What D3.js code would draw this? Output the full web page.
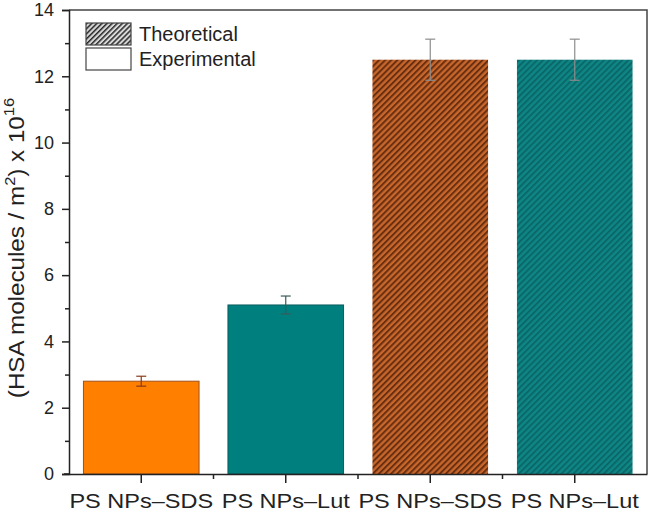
<!DOCTYPE html>
<html>
<head>
<meta charset="utf-8">
<script src="https://cdn.jsdelivr.net/npm/d3@7"></script>
<style>
  body { margin: 0; background: #fff; }
  text { font-family: "Liberation Sans", Arial, sans-serif; fill: #222; }
</style>
</head>
<body>
<script>
// chart values
const categories = ["PS NPs\u2013SDS", "PS NPs\u2013Lut", "PS NPs\u2013SDS ", "PS NPs\u2013Lut "];
const values = [2.8, 5.1, 12.5, 12.5];
const errors = [0.15, 0.27, 0.62, 0.62];
const kinds = ["Experimental", "Experimental", "Theoretical", "Theoretical"];
const yTicks = [0, 2, 4, 6, 8, 10, 12, 14];
const legendItems = ["Theoretical", "Experimental"];

const W = 664, H = 517;
const mLeft = 69, mRight = 647, mTop = 10, mBottom = 474;

const svg = d3.select("body").append("svg").attr("width", W).attr("height", H);

const defs = svg.append("defs");
function stripes(id, base, line, gap, lw) {
  const p = defs.append("pattern")
    .attr("id", id)
    .attr("patternUnits", "userSpaceOnUse")
    .attr("width", gap).attr("height", gap)
    .attr("patternTransform", "rotate(45)");
  p.append("rect").attr("width", gap).attr("height", gap).attr("fill", base);
  p.append("rect").attr("width", lw).attr("height", gap).attr("fill", line);
}
stripes("hatchSDS", "#c8672c", "#6a2e10", 4.3, 2.0);
stripes("hatchLut", "#0f8585", "#0a6868", 4.3, 1.9);
stripes("hatchLegend", "#d8d8d8", "#2a2a2a", 3.6, 1.5);

const x = d3.scaleBand().domain(categories).range([mLeft, mRight])
  .paddingInner(0.2).paddingOuter(0.1);
const y = d3.scaleLinear().domain([0, 14]).range([mBottom, mTop]);

function fillFor(i) {
  const lut = categories[i].includes("Lut");
  if (kinds[i] === "Experimental") return lut ? "#007f7f" : "#ff8000";
  return lut ? "url(#hatchLut)" : "url(#hatchSDS)";
}

// bars
svg.selectAll("rect.bar")
  .data(values)
  .enter()
  .append("rect")
  .attr("class", "bar")
  .attr("x", (d, i) => x(categories[i]))
  .attr("width", x.bandwidth())
  .attr("y", d => y(d))
  .attr("height", d => y(0) - y(d))
  .attr("fill", (d, i) => fillFor(i))
  .attr("stroke", (d, i) => kinds[i] === "Experimental" ? (categories[i].includes("Lut") ? "#0a5e5e" : "#a0501a") : "none")
  .attr("stroke-width", 1);

// error bars
svg.selectAll("g.err")
  .data(values)
  .enter()
  .append("g")
  .attr("class", "err")
  .attr("transform", (d, i) => "translate(" + (x(categories[i]) + x.bandwidth() / 2) + ",0)")
  .each(function(d, i) {
    const g = d3.select(this);
    const col = i === 0 ? "#8a3a1a" : (i === 1 ? "#3b5a5a" : "#8c8c8c");
    const lo = y(d - errors[i]), hi = y(d + errors[i]);
    g.append("line").attr("x1", 0).attr("x2", 0).attr("y1", lo).attr("y2", hi)
      .attr("stroke", col).attr("stroke-width", 1.2);
    [lo, hi].forEach(v => {
      g.append("line").attr("x1", -5).attr("x2", 5).attr("y1", v).attr("y2", v)
        .attr("stroke", col).attr("stroke-width", 1.2);
    });
  });

// frame (top and right)
svg.append("path")
  .attr("d", "M" + mLeft + "," + mTop + "H" + mRight + "V" + mBottom)
  .attr("fill", "none").attr("stroke", "#444").attr("stroke-width", 1.5);

// y axis
const yAxis = svg.append("g").attr("transform", "translate(" + mLeft + ",0)")
  .call(d3.axisLeft(y).tickValues(yTicks).tickSize(7).tickPadding(8));
svg.append("g").attr("transform", "translate(" + mLeft + ",0)")
  .call(d3.axisLeft(y).tickValues(d3.range(1, 14, 2)).tickSize(4).tickFormat(""))
  .select(".domain").remove();

// x axis
const xAxis = svg.append("g").attr("transform", "translate(0," + mBottom + ")")
  .call(d3.axisBottom(x).tickSize(9).tickPadding(10).tickSizeOuter(0));
const minor = categories.slice(0, -1).map(c => x(c) + x.bandwidth() / 2 + x.step() / 2);
svg.append("g").attr("class", "minorx")
  .selectAll("line")
  .data(minor)
  .enter()
  .append("line")
  .attr("x1", d => d).attr("x2", d => d)
  .attr("y1", mBottom).attr("y2", mBottom + 5)
  .attr("stroke", "#222").attr("stroke-width", 1.5);

svg.selectAll(".domain").attr("stroke", "#222").attr("stroke-width", 1.5);
svg.selectAll(".tick line").attr("stroke", "#222").attr("stroke-width", 1.5);
// axis line runs a little left of the y axis, as in the original
svg.append("line").attr("x1", mLeft - 5).attr("x2", mLeft).attr("y1", mBottom).attr("y2", mBottom)
  .attr("stroke", "#222").attr("stroke-width", 1.5);

yAxis.selectAll(".tick text").attr("font-size", 18).attr("fill", "#222");
xAxis.selectAll(".tick text").attr("font-size", 21).attr("fill", "#222")
  .attr("transform", "scale(1.12,1)");

// y title
const yt = svg.append("text")
  .attr("transform", "translate(24,248) rotate(-90) scale(1.1,1)")
  .attr("text-anchor", "middle")
  .attr("font-size", 22);
yt.append("tspan").text("(HSA molecules / m");
yt.append("tspan").attr("font-size", 15).attr("dy", -9).text("2");
yt.append("tspan").attr("dy", 9).text(") x 10");
yt.append("tspan").attr("font-size", 15).attr("dy", -10).text("16");

// legend
const lg = svg.append("g").attr("transform", "translate(86,23)");
lg.selectAll("rect")
  .data(legendItems)
  .enter()
  .append("rect")
  .attr("x", 0)
  .attr("y", (d, i) => i * 25)
  .attr("width", 45).attr("height", 22)
  .attr("fill", d => d === "Theoretical" ? "url(#hatchLegend)" : "#fff")
  .attr("stroke", "#444").attr("stroke-width", 1.2);
lg.selectAll("text")
  .data(legendItems)
  .enter()
  .append("text")
  .attr("x", 53)
  .attr("y", (d, i) => i * 25 + 18)
  .attr("font-size", 20)
  .text(d => d);
</script>
</body>
</html>
